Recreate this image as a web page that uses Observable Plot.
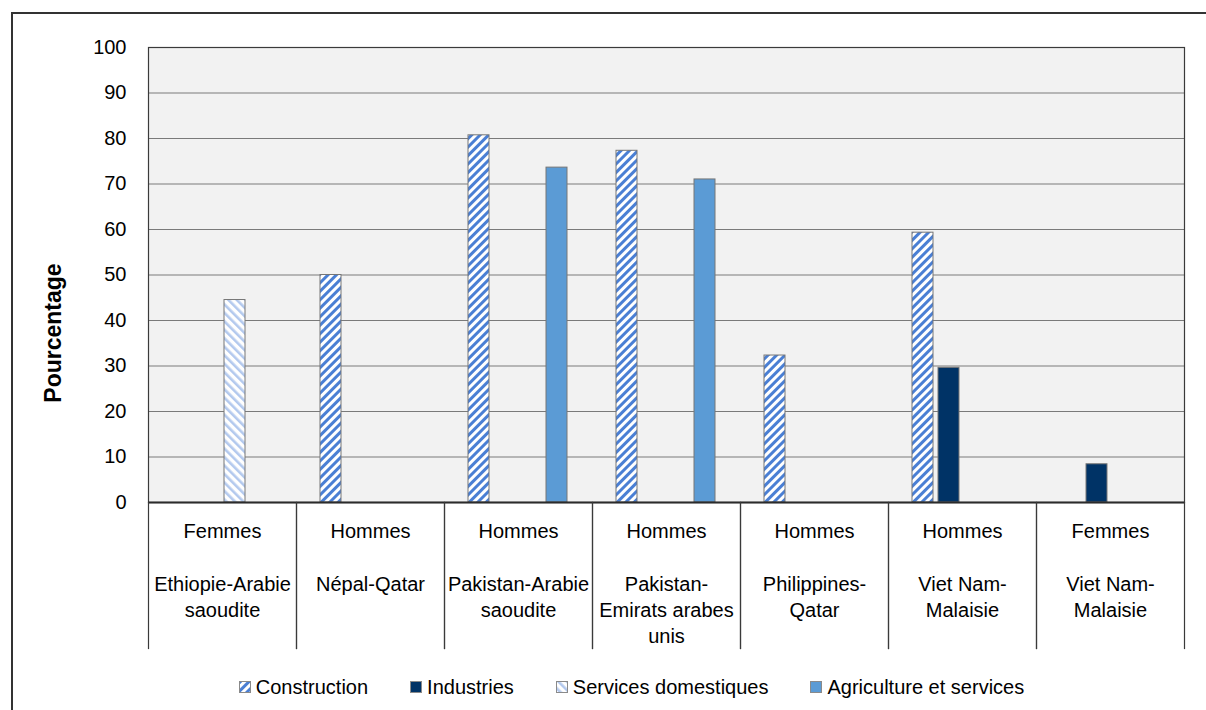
<!DOCTYPE html>
<html>
<head>
<meta charset="utf-8">
<script src="https://cdn.jsdelivr.net/npm/d3@7"></script>
<script src="https://cdn.jsdelivr.net/npm/@observablehq/plot@0.6"></script>
<style>
  html, body { margin: 0; padding: 0; background: #fff; }
  body { font-family: "Liberation Sans", Arial, sans-serif; }
  #wrap { position: relative; width: 1206px; height: 710px; overflow: hidden; }
  #border { position: absolute; left: 11px; top: 12px; width: 1220px; height: 720px; border: 2px solid #333; box-sizing: border-box; pointer-events: none; }
  #chart { position: absolute; left: 0; top: 0; }
  #ylabel { position: absolute; left: 53px; top: 333px; transform: translate(-50%, -50%) rotate(-90deg);
            font-weight: bold; font-size: 23px; white-space: nowrap; color: #000; line-height: 1; }
  #legend { position: absolute; left: 0; top: 674px; width: 1206px; box-sizing: border-box; padding-left: 57px;
            display: flex; justify-content: center; align-items: center; gap: 42px; font-size: 20px; line-height: 26px; color: #000; }
  .item { display: flex; align-items: center; gap: 5px; }
  .sw { width: 12px; height: 12px; display: block; }
</style>
</head>
<body>
<svg width="0" height="0" style="position:absolute">
  <defs>
    <pattern id="p-constr" patternUnits="userSpaceOnUse" width="6" height="6" patternTransform="rotate(45)">
      <rect width="6" height="6" fill="#ffffff"></rect>
      <rect width="3" height="6" fill="#4a7fd4"></rect>
    </pattern>
    <pattern id="p-serv" patternUnits="userSpaceOnUse" width="6" height="6" patternTransform="rotate(-45)">
      <rect width="6" height="6" fill="#ffffff"></rect>
      <rect width="2.6" height="6" fill="#b3c9ee"></rect>
    </pattern>
  </defs>
</svg>
<div id="wrap">
  <div id="chart"></div>
  <div id="ylabel">Pourcentage</div>
  <div id="legend"></div>
  <div id="border"></div>
</div>
<script>
// ---- data ----
const genders = ["Femmes", "Hommes", "Hommes", "Hommes", "Hommes", "Hommes", "Femmes"];
const corridors = ["Ethiopie-Arabie\nsaoudite", "Népal-Qatar", "Pakistan-Arabie\nsaoudite", "Pakistan-\nEmirats arabes\nunis", "Philippines-\nQatar", "Viet Nam-\nMalaisie", "Viet Nam-\nMalaisie"];
const series = ["Construction", "Industries", "Services domestiques", "Agriculture et services"];
const construction = [null, 50.0, 80.7, 77.3, 32.3, 59.3, null];
const industries = [null, null, null, null, null, 29.6, 8.4];
const servicesDomestiques = [44.5, null, null, null, null, null, null];
const agricultureServices = [null, null, 73.6, 71.0, null, null, null];
const yTicks = [0, 10, 20, 30, 40, 50, 60, 70, 80, 90, 100];
const seriesFills = ["url(#p-constr)", "#003366", "url(#p-serv)", "#5b9bd5"];

const keys = genders.map((g, i) => g + "|" + corridors[i]);
const valuesBySeries = [construction, industries, servicesDomestiques, agricultureServices];
const rows = [];
series.forEach((s, si) => {
  valuesBySeries[si].forEach((v, i) => {
    if (v != null) rows.push({key: keys[i], series: s, value: v});
  });
});
const idx = d3.range(keys.length);

const W = 1206, H = 660, mt = 47, mb = 158, ml = 145, mr = 20;
const plotH = H - mt - mb;
const below = 146;
const font = "'Liberation Sans', Arial, sans-serif";

const chart = Plot.plot({
  width: W, height: H,
  marginTop: mt, marginBottom: mb, marginLeft: ml, marginRight: mr,
  style: {fontFamily: font, fontSize: "20px", color: "#000", background: "transparent", overflow: "visible"},
  fx: {domain: keys, padding: 0, axis: null},
  x: {domain: series, paddingInner: 0.176, paddingOuter: 0.873, axis: null},
  y: {domain: [0, 100], axis: null},
  color: {domain: series, range: seriesFills},
  marks: [
    Plot.frame({facet: "super", fill: "#f2f2f2"}),
    Plot.ruleY(yTicks.slice(1, -1), {stroke: "#7a7a7a", strokeWidth: 1}),
    Plot.barY(rows, {fx: "key", x: "series", y: "value", fill: "series", stroke: "#767676", strokeWidth: 1}),
    Plot.frame({facet: "super", stroke: "#3a3a3a", strokeWidth: 1.2}),
    Plot.ruleY([0], {stroke: "#2b2b2b", strokeWidth: 2}),
    Plot.frame({anchor: "left", stroke: "#3a3a3a", strokeWidth: 1.2, insetTop: plotH, insetBottom: -below}),
    Plot.frame({anchor: "right", stroke: "#3a3a3a", strokeWidth: 1.2, insetTop: plotH, insetBottom: -below}),
    Plot.axisY({ticks: yTicks, tickSize: 0, tickPadding: 22, fontSize: 20, label: null}),
    Plot.text(idx, {fx: i => keys[i], text: i => genders[i], frameAnchor: "bottom", lineAnchor: "middle", dy: 29, fontSize: 20}),
    Plot.text(idx, {fx: i => keys[i], text: i => corridors[i], frameAnchor: "bottom", lineAnchor: "top", dy: 70, lineHeight: 1.3, fontSize: 20})
  ]
});
document.getElementById("chart").appendChild(chart);

// ---- legend ----
const legend = document.getElementById("legend");
series.forEach((s, i) => {
  const item = document.createElement("div");
  item.className = "item";
  item.innerHTML = `<svg class="sw" width="12" height="12"><rect x="0.5" y="0.5" width="11" height="11" fill="${seriesFills[i]}" stroke="#8a8a8a" stroke-width="1"></rect></svg><span>${s}</span>`;
  legend.appendChild(item);
});
</script>
</body>
</html>
